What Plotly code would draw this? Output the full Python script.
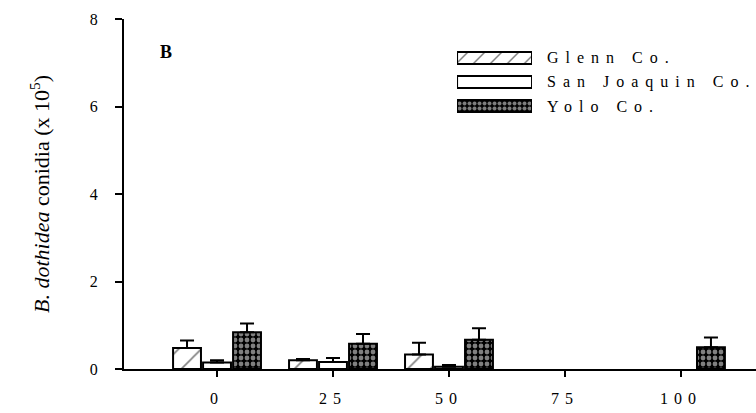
import plotly.graph_objects as go

# ---- data ----
categories = ["0", "25", "50", "75", "100"]
series_names = ["Glenn Co.", "San Joaquin Co.", "Yolo Co."]
glenn = [0.48, 0.20, 0.33, None, None]
glenn_err = [0.17, 0.03, 0.27, None, None]
sanjoaquin = [0.15, 0.16, 0.05, None, None]
sanjoaquin_err = [0.05, 0.09, 0.04, None, None]
yolo = [0.84, 0.58, 0.67, None, 0.50]
yolo_err = [0.20, 0.22, 0.26, None, 0.22]
y_ticks = [0, 2, 4, 6, 8]

FONT = "Liberation Serif"
patterns = [
    dict(shape="/", size=16, solidity=0.1, fgcolor="black", bgcolor="white"),
    dict(shape="", fgcolor="black", bgcolor="white"),
    dict(shape=".", size=6, solidity=0.5, fgcolor="white", bgcolor="black"),
]

fig = go.Figure()
for name, vals, errs, pat in zip(series_names, [glenn, sanjoaquin, yolo],
                                 [glenn_err, sanjoaquin_err, yolo_err], patterns):
    fig.add_trace(go.Bar(
        x=categories, y=vals, name=name, showlegend=False,
        marker=dict(color="white", line=dict(color="black", width=2), pattern=pat),
        error_y=dict(type="data", symmetric=False, array=errs,
                     arrayminus=[0 if e is not None else None for e in errs],
                     color="black", thickness=2, width=7),
    ))

# legend patches on a hidden helper subplot
fig.add_trace(go.Bar(
    x=[1, 1, 1], y=series_names, orientation="h", width=0.5, base=0,
    xaxis="x2", yaxis="y2", showlegend=False, hoverinfo="skip",
    marker=dict(color="white", line=dict(color="black", width=2),
                pattern=dict(shape=["/", "", "."], size=[12, 8, 5],
                             solidity=[0.12, 0.0, 0.5],
                             fgcolor=["black", "black", "white"],
                             bgcolor=["white", "white", "black"])),
))

def spaced(t, ls):
    return f'<span style="letter-spacing:{ls}px">{t}</span>'

annotations = []
for name in series_names:
    annotations.append(dict(
        text=spaced(name, 7), xref="paper", yref="y2", x=0.666, y=name,
        xanchor="left", yanchor="middle", showarrow=False,
        font=dict(family=FONT, size=16, color="black"),
    ))
annotations.append(dict(
    text="<b>B</b>", xref="paper", yref="paper", x=0.0665, y=0.906,
    xanchor="center", yanchor="middle", showarrow=False,
    font=dict(family=FONT, size=18, color="black"),
))

fig.update_layout(
    width=756, height=413,
    margin=dict(l=124, r=0, t=19, b=44),
    paper_bgcolor="white", plot_bgcolor="white",
    barmode="group", bargap=0.224, bargroupgap=0.07,
    font=dict(family=FONT, color="black"),
    annotations=annotations,
    xaxis=dict(
        type="category", range=[-0.802, 4.647],
        tickvals=categories, ticktext=[spaced(c, 6) for c in categories],
        showline=True, linecolor="black", linewidth=2,
        ticks="outside", ticklen=6, tickwidth=2, tickcolor="black",
        ticklabelstandoff=8,
        showgrid=False, zeroline=False,
        tickfont=dict(family=FONT, size=16, color="black"),
    ),
    yaxis=dict(
        range=[0, 8], tickvals=y_ticks,
        showline=True, linecolor="black", linewidth=2,
        ticks="outside", ticklen=7, tickwidth=2, tickcolor="black",
        ticklabelstandoff=14,
        showgrid=False, zeroline=False,
        tickfont=dict(family=FONT, size=16, color="black"),
        title=dict(text="<i>B. dothidea</i> conidia (x 10<sup>5</sup>)",
                   font=dict(family=FONT, size=22, color="black"), standoff=34),
    ),
    xaxis2=dict(domain=[0.527, 0.6456], range=[0, 1], anchor="y2", visible=False),
    yaxis2=dict(domain=[0.717, 0.923], type="category", categoryarray=series_names,
                autorange="reversed", anchor="x2", visible=False),
)

fig.write_html("out.html")
